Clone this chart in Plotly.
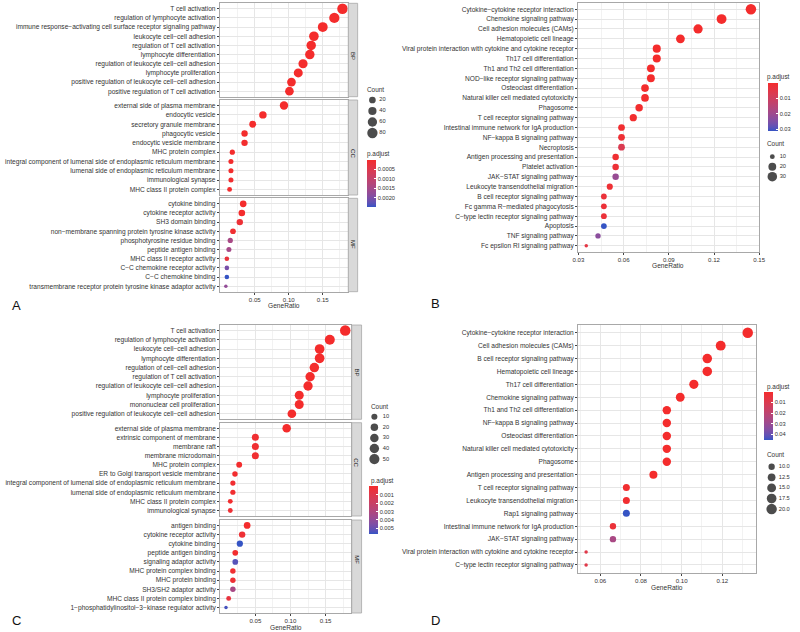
import math
import plotly.graph_objects as go

W, H = 800, 632
FONT = "Liberation Sans, Arial, sans-serif"
TXT = "#333333"

# ---------------- data : panel A (GO) ----------------
A_BP_terms = ["T cell activation", "regulation of lymphocyte activation",
              "immune response−activating cell surface receptor signaling pathway",
              "leukocyte cell−cell adhesion", "regulation of T cell activation",
              "lymphocyte differentiation", "regulation of leukocyte cell−cell adhesion",
              "lymphocyte proliferation", "positive regulation of leukocyte cell−cell adhesion",
              "positive regulation of T cell activation"]
A_BP_ratio = [0.179, 0.167, 0.150, 0.137, 0.133, 0.131, 0.121, 0.114, 0.104, 0.101]
A_BP_count = [85, 79, 71, 65, 63, 62, 57, 54, 49, 48]
A_BP_padj = [3.2e-35, 5.1e-33, 2.4e-30, 6.8e-28, 1.2e-27, 4.5e-27, 7.3e-25, 2.2e-23, 8.9e-22, 1.6e-21]

A_CC_terms = ["external side of plasma membrane", "endocytic vesicle", "secretory granule membrane",
              "phagocytic vesicle", "endocytic vesicle membrane", "MHC protein complex",
              "integral component of lumenal side of endoplasmic reticulum membrane",
              "lumenal side of endoplasmic reticulum membrane", "immunological synapse",
              "MHC class II protein complex"]
A_CC_ratio = [0.093, 0.062, 0.047, 0.035, 0.035, 0.017, 0.015, 0.015, 0.015, 0.013]
A_CC_count = [44, 29, 22, 17, 17, 8, 7, 7, 7, 6]
A_CC_padj = [1.1e-12, 2.3e-8, 5.2e-6, 1.4e-5, 3.1e-5, 4.4e-6, 1.2e-5, 2.0e-5, 6.1e-5, 3.3e-5]

A_MF_terms = ["cytokine binding", "cytokine receptor activity", "SH3 domain binding",
              "non−membrane spanning protein tyrosine kinase activity",
              "phosphotyrosine residue binding", "peptide antigen binding",
              "MHC class II receptor activity", "C−C chemokine receptor activity",
              "C−C chemokine binding",
              "transmembrane receptor protein tyrosine kinase adaptor activity"]
A_MF_ratio = [0.033, 0.031, 0.028, 0.018, 0.014, 0.012, 0.009, 0.009, 0.009, 0.0075]
A_MF_count = [20, 19, 17, 11, 8, 7, 5, 5, 5, 3]
A_MF_padj = [2.0e-6, 8.0e-6, 1.4e-4, 9.0e-5, 1.45e-3, 1.5e-3, 2.5e-4, 2.05e-3, 2.5e-3, 1.75e-3]

A_size_legend = [20, 40, 60, 80]
A_size_labels = ["20", "40", "60", "80"]
A_p_ticks = [0.0005, 0.0010, 0.0015, 0.0020]
A_p_labels = ["0.0005", "0.0010", "0.0015", "0.0020"]
A_x_ticks = [0.05, 0.10, 0.15]
A_x_minor = [0.025, 0.075, 0.125, 0.175]

# ---------------- data : panel B (KEGG) ----------------
B_terms = ["Cytokine−cytokine receptor interaction", "Chemokine signaling pathway",
           "Cell adhesion molecules (CAMs)", "Hematopoietic cell lineage",
           "Viral protein interaction with cytokine and cytokine receptor",
           "Th17 cell differentiation", "Th1 and Th2 cell differentiation",
           "NOD−like receptor signaling pathway", "Osteoclast differentiation",
           "Natural killer cell mediated cytotoxicity", "Phagosome",
           "T cell receptor signaling pathway", "Intestinal immune network for IgA production",
           "NF−kappa B signaling pathway", "Necroptosis", "Antigen processing and presentation",
           "Platelet activation", "JAK−STAT signaling pathway",
           "Leukocyte transendothelial migration", "B cell receptor signaling pathway",
           "Fc gamma R−mediated phagocytosis", "C−type lectin receptor signaling pathway",
           "Apoptosis", "TNF signaling pathway", "Fc epsilon RI signaling pathway"]
B_ratio = [0.1445, 0.1250, 0.1094, 0.0977, 0.0820, 0.0820, 0.0781, 0.0781, 0.0742, 0.0742,
           0.0703, 0.0664, 0.0586, 0.0586, 0.0586, 0.0547, 0.0547, 0.0547, 0.0508, 0.0469,
           0.0469, 0.0469, 0.0469, 0.0430, 0.0352]
B_count = [37, 32, 28, 25, 21, 21, 20, 20, 19, 19, 18, 17, 15, 15, 15, 14, 14, 14, 13, 12,
           12, 12, 12, 11, 9]
B_padj = [1e-14, 1e-11, 1e-9, 1e-9, 2e-6, 1e-6, 3e-6, 8e-5, 2e-4, 3e-4, 4e-4, 6e-4, 9e-4,
          1.5e-3, 7.0e-3, 1.2e-3, 2.0e-3, 2.1e-2, 1.5e-3, 2.5e-3, 2.2e-3, 2.6e-3, 3.1e-2,
          2.3e-2, 4.5e-3]
B_size_legend = [10, 20, 30]
B_size_labels = ["10", "20", "30"]
B_p_ticks = [0.01, 0.02, 0.03]
B_p_labels = ["0.01", "0.02", "0.03"]
B_x_ticks = [0.03, 0.06, 0.09, 0.12, 0.15]
B_x_minor = [0.045, 0.075, 0.105, 0.135]

# ---------------- data : panel C (GO) ----------------
C_BP_terms = ["T cell activation", "regulation of lymphocyte activation",
              "leukocyte cell−cell adhesion", "lymphocyte differentiation",
              "regulation of cell−cell adhesion", "regulation of T cell activation",
              "regulation of leukocyte cell−cell adhesion", "lymphocyte proliferation",
              "mononuclear cell proliferation",
              "positive regulation of leukocyte cell−cell adhesion"]
C_BP_ratio = [0.178, 0.156, 0.1415, 0.1415, 0.134, 0.128, 0.125, 0.1125, 0.1125, 0.102]
C_BP_count = [55, 48, 44, 44, 41, 40, 39, 35, 35, 32]
C_BP_padj = [2e-25, 3e-22, 1e-20, 2e-20, 4e-19, 7e-19, 1e-18, 3e-17, 4e-17, 2e-16]

C_CC_terms = ["external side of plasma membrane", "extrinsic component of membrane",
              "membrane raft", "membrane microdomain", "MHC protein complex",
              "ER to Golgi transport vesicle membrane",
              "integral component of lumenal side of endoplasmic reticulum membrane",
              "lumenal side of endoplasmic reticulum membrane", "MHC class II protein complex",
              "immunological synapse"]
C_CC_ratio = [0.0946, 0.050, 0.050, 0.050, 0.027, 0.021, 0.018, 0.018, 0.0143, 0.0143]
C_CC_count = [30, 16, 16, 16, 9, 7, 6, 6, 5, 5]
C_CC_padj = [1e-10, 2e-4, 2e-4, 2e-4, 5e-5, 1e-4, 1.5e-4, 1.5e-4, 1e-4, 3e-4]

C_MF_terms = ["antigen binding", "cytokine receptor activity", "cytokine binding",
              "peptide antigen binding", "signaling adaptor activity",
              "MHC protein complex binding", "MHC protein binding", "SH3/SH2 adaptor activity",
              "MHC class II protein complex binding",
              "1−phosphatidylinositol−3−kinase regulator activity"]
C_MF_ratio = [0.0383, 0.0312, 0.0279, 0.0214, 0.0214, 0.018, 0.018, 0.018, 0.012, 0.0082]
C_MF_count = [14, 12, 11, 8, 8, 7, 7, 7, 5, 3]
C_MF_padj = [2e-5, 3e-4, 5.7e-3, 1e-4, 5.3e-3, 2e-4, 3e-4, 3.3e-3, 6e-4, 5.5e-3]

C_size_legend = [10, 20, 30, 40, 50]
C_size_labels = ["10", "20", "30", "40", "50"]
C_p_ticks = [0.001, 0.002, 0.003, 0.004, 0.005]
C_p_labels = ["0.001", "0.002", "0.003", "0.004", "0.005"]
C_x_ticks = [0.05, 0.10, 0.15]
C_x_minor = [0.025, 0.075, 0.125, 0.175]

# ---------------- data : panel D (KEGG) ----------------
D_terms = ["Cytokine−cytokine receptor interaction", "Cell adhesion molecules (CAMs)",
           "B cell receptor signaling pathway", "Hematopoietic cell lineage",
           "Th17 cell differentiation", "Chemokine signaling pathway",
           "Th1 and Th2 cell differentiation", "NF−kappa B signaling pathway",
           "Osteoclast differentiation", "Natural killer cell mediated cytotoxicity",
           "Phagosome", "Antigen processing and presentation",
           "T cell receptor signaling pathway", "Leukocyte transendothelial migration",
           "Rap1 signaling pathway", "Intestinal immune network for IgA production",
           "JAK−STAT signaling pathway",
           "Viral protein interaction with cytokine and cytokine receptor",
           "C−type lectin receptor signaling pathway"]
D_ratio = [0.1325, 0.1192, 0.1126, 0.1126, 0.1060, 0.0993, 0.0927, 0.0927, 0.0927, 0.0927,
           0.0927, 0.0861, 0.0728, 0.0728, 0.0728, 0.0662, 0.0662, 0.0530, 0.0530]
D_count = [20, 18, 17, 17, 16, 15, 14, 14, 14, 14, 14, 13, 11, 11, 11, 10, 10, 8, 8]
D_padj = [1e-10, 1e-8, 1e-8, 2e-8, 1e-7, 1e-6, 2e-6, 3e-6, 3e-6, 4e-6, 5e-6, 2e-5, 1e-3,
          1.2e-3, 4.5e-2, 3.5e-3, 2.6e-2, 8.0e-3, 8.0e-3]
D_size_legend = [10.0, 12.5, 15.0, 17.5, 20.0]
D_size_labels = ["10.0", "12.5", "15.0", "17.5", "20.0"]
D_p_ticks = [0.01, 0.02, 0.03, 0.04]
D_p_labels = ["0.01", "0.02", "0.03", "0.04"]
D_x_ticks = [0.06, 0.08, 0.10, 0.12]
D_x_minor = [0.05, 0.07, 0.09, 0.11, 0.13]

LABEL_SIZE = 6.6
TICK_SIZE = 6.1
LEG_SIZE = 5.7


# ---------------- helpers ----------------
def fx(px):
    return min(1.0, max(0.0, px / W))


def fy(px):
    return min(1.0, max(0.0, 1 - px / H))


def to_lab(hexc):
    r, g, b = [int(hexc[i:i + 2], 16) / 255 for i in (1, 3, 5)]

    def lin(c):
        return c / 12.92 if c <= 0.04045 else ((c + 0.055) / 1.055) ** 2.4
    r, g, b = lin(r), lin(g), lin(b)
    X = (0.4124 * r + 0.3576 * g + 0.1805 * b) / 0.95047
    Y = 0.2126 * r + 0.7152 * g + 0.0722 * b
    Z = (0.0193 * r + 0.1192 * g + 0.9505 * b) / 1.08883

    def f(t):
        return t ** (1 / 3) if t > 0.008856 else 7.787 * t + 16 / 116
    return 116 * f(Y) - 16, 500 * (f(X) - f(Y)), 200 * (f(Y) - f(Z))


def lab_hex(L, a, b):
    fyv = (L + 16) / 116
    fxv = fyv + a / 500
    fzv = fyv - b / 200

    def finv(t):
        return t ** 3 if t ** 3 > 0.008856 else (t - 16 / 116) / 7.787
    X, Y, Z = finv(fxv) * 0.95047, finv(fyv), finv(fzv) * 1.08883
    r = 3.2406 * X - 1.5372 * Y - 0.4986 * Z
    g = -0.9689 * X + 1.8758 * Y + 0.0415 * Z
    bb = 0.0557 * X - 0.2040 * Y + 1.0570 * Z

    def gam(c):
        c = max(0.0, min(1.0, c))
        return 12.92 * c if c <= 0.0031308 else 1.055 * c ** (1 / 2.4) - 0.055
    return "#%02x%02x%02x" % tuple(int(round(gam(c) * 255)) for c in (r, g, bb))


LOW_P_COLOR = "#F42C2C"
HIGH_P_COLOR = "#3554C4"
_l1, _l2 = to_lab(HIGH_P_COLOR), to_lab(LOW_P_COLOR)
CS = [[i / 20, lab_hex(*[a + (b - a) * i / 20 for a, b in zip(_l1, _l2)])] for i in range(21)]


def make_sizer(all_counts, dmin=3.5, dmax=10.5):
    lo, hi = min(all_counts), max(all_counts)

    def s(c):
        v = max(0.0, (c - lo) / (hi - lo))
        return dmin + (dmax - dmin) * math.sqrt(v)
    return s


fig = go.Figure()
layout = {}
shapes = []
annotations = []
counter = [0]


def next_axes():
    counter[0] += 1
    k = counter[0]
    s = "" if k == 1 else str(k)
    return "x" + s, "y" + s, "xaxis" + s, "yaxis" + s


def facet(terms, ratio, count, padj, xpx, ypx, xrange, xticks, xminor, prange, sizer,
          show_x, cbar=None, strip=None):
    xa, ya, xk, yk = next_axes()
    n = len(terms)
    fig.add_trace(go.Scatter(
        x=ratio, y=terms, mode="markers", xaxis=xa, yaxis=ya, showlegend=False,
        hoverinfo="x+y",
        marker=dict(size=[sizer(c) for c in count], color=[-p for p in padj],
                    colorscale=CS, cmin=-prange[1], cmax=-prange[0], opacity=1,
                    line=dict(width=0), showscale=cbar is not None, colorbar=cbar)))
    layout[xk] = dict(
        domain=[fx(xpx[0]), fx(xpx[1])], range=xrange, anchor=ya,
        tickmode="array", tickvals=xticks, tickformat=".2f",
        showticklabels=show_x, ticks="outside" if show_x else "", ticklen=2,
        tickwidth=0.6, tickcolor="#444444",
        tickfont=dict(size=TICK_SIZE, color=TXT, family=FONT),
        showgrid=True, gridcolor="#E6E6E6", gridwidth=0.6, zeroline=False,
        minor=dict(tickmode="array", tickvals=xminor, showgrid=True,
                   gridcolor="#F2F2F2", gridwidth=0.4),
        showline=True, mirror=True, linecolor="#A8A8A8", linewidth=0.8)
    layout[yk] = dict(
        domain=[fy(ypx[1]), fy(ypx[0])], anchor=xa, type="category",
        categoryorder="array", categoryarray=terms, range=[n - 0.4, -0.6],
        ticks="outside", ticklen=2, tickwidth=0.6, tickcolor="#444444",
        tickfont=dict(size=LABEL_SIZE, color=TXT, family=FONT),
        showgrid=True, gridcolor="#E6E6E6", gridwidth=0.6, zeroline=False,
        showline=True, mirror=True, linecolor="#A8A8A8", linewidth=0.8)
    if strip is not None:
        label, sx = strip
        shapes.append(dict(type="rect", xref="paper", yref="paper",
                           x0=fx(sx[0]), x1=fx(sx[1]), y0=fy(ypx[1]), y1=fy(ypx[0]),
                           fillcolor="#D9D9D9", line=dict(color="#A8A8A8", width=0.8),
                           layer="above"))
        annotations.append(dict(text=label, x=fx((sx[0] + sx[1]) / 2),
                                y=fy((ypx[0] + ypx[1]) / 2), xref="paper", yref="paper",
                                showarrow=False, textangle=90,
                                font=dict(size=6.0, color="#1A1A1A", family=FONT)))


def colorbar(x0, y_top, y_bot, thick, ticks, labels):
    return dict(x=fx(x0), xanchor="left", y=fy(y_top), yanchor="top",
                len=y_bot - y_top, lenmode="pixels", thickness=thick,
                thicknessmode="pixels", xpad=0, ypad=0, outlinewidth=0,
                tickmode="array", tickvals=[-t for t in ticks], ticktext=labels,
                ticks="inside", ticklen=2, tickcolor="white", tickwidth=0.6,
                tickfont=dict(size=LEG_SIZE, color=TXT, family=FONT))


def count_legend(values, labels, sizer, key_x, y0, step, label_x):
    xa, ya, xk, yk = next_axes()
    n = len(values)
    idx = list(range(n))
    right = min(30.0, W - key_x)
    fig.add_trace(go.Scatter(x=[0] * n, y=idx, mode="markers", xaxis=xa, yaxis=ya,
                             showlegend=False, hoverinfo="skip", cliponaxis=False,
                             marker=dict(size=[sizer(v) for v in values], color="black",
                                         line=dict(width=0))))
    fig.add_trace(go.Scatter(x=[label_x - key_x] * n, y=idx, mode="text", text=labels,
                             textposition="middle right", xaxis=xa, yaxis=ya,
                             showlegend=False, hoverinfo="skip", cliponaxis=False,
                             textfont=dict(size=LEG_SIZE, color=TXT, family=FONT)))
    layout[xk] = dict(domain=[fx(key_x - 10), fx(key_x + right)], range=[-10, right],
                      visible=False, anchor=ya)
    layout[yk] = dict(domain=[fy(y0 + (n - 0.5) * step), fy(y0 - 0.5 * step)],
                      range=[n - 0.5, -0.5], visible=False, anchor=xa)


def text(t, x, y, size, anchor="center", color=TXT):
    annotations.append(dict(text=t, x=fx(x), y=fy(y), xref="paper", yref="paper",
                            showarrow=False, xanchor=anchor, yanchor="middle",
                            font=dict(size=size, color=color, family=FONT)))


# ---------------- panel A ----------------
A_counts = A_BP_count + A_CC_count + A_MF_count
A_p = A_BP_padj + A_CC_padj + A_MF_padj
sA = make_sizer(A_counts)
pA = (min(A_p), max(A_p))
A_xr = [-0.0015, 0.1868]
facet(A_BP_terms, A_BP_ratio, A_BP_count, A_BP_padj, (218, 348), (3.3, 96.7), A_xr,
      A_x_ticks, A_x_minor, pA, sA, False,
      cbar=colorbar(368, 160, 207, 9, A_p_ticks, A_p_labels), strip=("BP", (348.5, 358)))
facet(A_CC_terms, A_CC_ratio, A_CC_count, A_CC_padj, (218, 348), (100, 195), A_xr,
      A_x_ticks, A_x_minor, pA, sA, False, strip=("CC", (348.5, 358)))
facet(A_MF_terms, A_MF_ratio, A_MF_count, A_MF_padj, (218, 348), (198.3, 291.7), A_xr,
      A_x_ticks, A_x_minor, pA, sA, True, strip=("MF", (348.5, 358)))
count_legend(A_size_legend, A_size_labels, sA, 373, 100, 11, 380)
text("Count", 365, 90, 6.4, "left")
text("p.adjust", 365, 154.5, 6.4, "left")
text("GeneRatio", 283, 305, 6.6)
text("A", 12, 305, 13, color="#111111")

# ---------------- panel B ----------------
sB = make_sizer(B_count)
pB = (min(B_padj), max(B_padj))
facet(B_terms, B_ratio, B_count, B_padj, (581.7, 765.7), (3.3, 251.7), [0.0297, 0.1500],
      B_x_ticks, B_x_minor, pB, sB, True,
      cbar=colorbar(775, 82.7, 130.7, 9.5, B_p_ticks, B_p_labels))
count_legend(B_size_legend, B_size_labels, sB, 779, 156.7, 10, 786.5)
text("Count", 771.5, 143.3, 6.4, "left")
text("p.adjust", 771.5, 76.7, 6.4, "left")
text("GeneRatio", 673.5, 265, 6.6)
text("B", 437, 303, 13, color="#111111")

# ---------------- panel C ----------------
C_counts = C_BP_count + C_CC_count + C_MF_count
C_p = C_BP_padj + C_CC_padj + C_MF_padj
sC = make_sizer(C_counts)
pC = (min(C_p), max(C_p))
C_xr = [-0.0003, 0.1868]
facet(C_BP_terms, C_BP_ratio, C_BP_count, C_BP_padj, (218.3, 351.7), (325, 419.3), C_xr,
      C_x_ticks, C_x_minor, pC, sC, False,
      cbar=colorbar(370, 486.3, 534, 9, C_p_ticks, C_p_labels), strip=("BP", (352, 362)))
facet(C_CC_terms, C_CC_ratio, C_CC_count, C_CC_padj, (218.3, 351.7), (422.7, 516), C_xr,
      C_x_ticks, C_x_minor, pC, sC, False, strip=("CC", (352, 362)))
facet(C_MF_terms, C_MF_ratio, C_MF_count, C_MF_padj, (218.3, 351.7), (520, 613), C_xr,
      C_x_ticks, C_x_minor, pC, sC, True, strip=("MF", (352, 362)))
count_legend(C_size_legend, C_size_labels, sC, 375, 416.7, 10.6, 383.5)
text("Count", 370, 406.7, 6.4, "left")
text("p.adjust", 370, 481.5, 6.4, "left")
text("GeneRatio", 285, 627, 6.6)
text("C", 12, 620, 13, color="#111111")

# ---------------- panel D ----------------
sD = make_sizer(D_count)
pD = (min(D_padj), max(D_padj))
facet(D_terms, D_ratio, D_count, D_padj, (581.7, 762.3), (325, 572.7), [0.0490, 0.1365],
      D_x_ticks, D_x_minor, pD, sD, True,
      cbar=colorbar(771, 391.7, 440, 9, D_p_ticks, D_p_labels))
count_legend(D_size_legend, D_size_labels, sD, 778.3, 466.7, 10.6, 785.5)
text("Count", 771.5, 455, 6.4, "left")
text("p.adjust", 771.5, 386.5, 6.4, "left")
text("GeneRatio", 671.7, 587.3, 6.6)
text("D", 437, 620, 13, color="#111111")

fig.update_layout(
    width=W, height=H, margin=dict(l=0, r=0, t=0, b=0),
    paper_bgcolor="white", plot_bgcolor="white",
    font=dict(family=FONT, color=TXT), showlegend=False, hovermode=False,
    shapes=shapes, annotations=annotations, **layout)

fig.write_html("out.html", config={"displayModeBar": False},
               post_script="document.body.style.margin='0';document.body.style.overflow='hidden';")
